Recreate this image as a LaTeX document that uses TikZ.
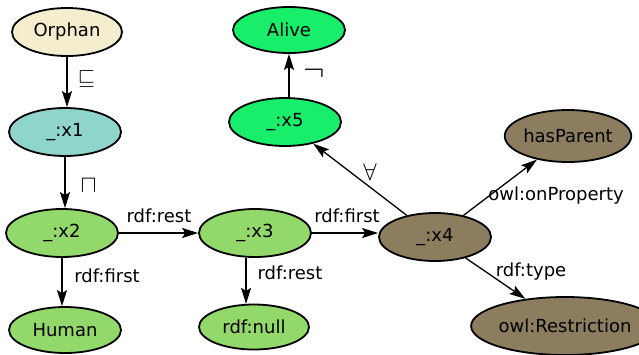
\documentclass[tikz,border=0pt]{standalone}
\usepackage{fontspec}
\setmainfont{DejaVu Sans}
\usetikzlibrary{shapes.geometric,arrows.meta}
\definecolor{cream}{RGB}{245,238,206}
\definecolor{teal}{RGB}{143,213,204}
\definecolor{lgreen}{RGB}{146,216,106}
\definecolor{bgreen}{RGB}{24,238,106}
\definecolor{khaki}{RGB}{140,125,95}
\tikzset{
  nd/.style={ellipse, draw=black, line width=1.8pt, inner sep=0pt,
    minimum width=112pt, minimum height=48pt, font=\fontsize{18}{21}\selectfont},
  lbl/.style={font=\fontsize{18}{21}\selectfont, inner sep=0pt},
  sym/.style={inner sep=0pt},
  edge/.style={line width=1.3pt, -{Stealth[length=16pt,width=10pt,inset=3pt]}},
}
\begin{document}
\begin{tikzpicture}[x=1pt,y=-1pt]
\useasboundingbox (0,0) rectangle (639,354);
\node[nd, fill=cream, minimum width=110pt] (Orphan) at (67,32) {Orphan};
\node[nd, fill=teal] (x1) at (65,132) {\_:x1};
\node[nd, fill=lgreen] (x2) at (62,233) {\_:x2};
\node[nd, fill=lgreen] (x3) at (255,233) {\_:x3};
\node[nd, fill=lgreen, minimum height=46pt] (Human) at (65,330) {Human};
\node[nd, fill=lgreen, minimum width=110pt, minimum height=45pt] (null) at (254,327) {rdf:null};
\node[nd, fill=bgreen, minimum height=46pt] (Alive) at (289,30) {Alive};
\node[nd, fill=bgreen] (x5) at (285,122) {\_:x5};
\node[nd, fill=khaki] (x4) at (435,237) {\_:x4};
\node[nd, fill=khaki, minimum width=116pt, minimum height=52pt] (hasParent) at (568,136) {hasParent};
\node[nd, fill=khaki, minimum width=144pt, minimum height=58pt] (Restriction) at (565,326) {owl:Restriction};

\draw[edge] (Orphan.south) -- (Orphan.south |- x1.north);
\draw[edge] (x1.south) -- (x1.south |- x2.north);
\draw[edge] (x2.south) -- (x2.south |- Human.north);
\draw[edge] (x2) -- (x3);
\draw[edge] (x3.250) -- (null.110 -| x3.250);
\draw[edge] (x3.east) -- (x3.east -| x4.west);
\draw[edge] (x4) -- (x5);
\draw[edge] (Alive.south |- x5.north) -- (Alive.south);
\draw[edge] (x4) -- (hasParent);
\draw[edge] (x4) -- (Restriction);

\node[sym, scale=2.2] (l1) at (86.5,78.5) {$\sqsubseteq$};
\node[sym, scale=2.4] (l2) at (88.5,185.5) {$\sqcap$};
\node[sym, scale=3.2] (l3) at (314,74) {$\neg$};
\node[sym, scale=2.4] (l4) at (370,172) {$\forall$};
\node[lbl, anchor=base] (l5) at (159,222) {rdf:rest};
\node[lbl, anchor=base] (l6) at (107,282) {rdf:first};
\node[lbl, anchor=base] (l7) at (290,279) {rdf:rest};
\node[lbl, anchor=base] (l8) at (347,222) {rdf:first};
\node[lbl, anchor=base] (l9) at (556,200) {owl:onProperty};
\node[lbl, anchor=base] (l10) at (531,276) {rdf:type};
\end{tikzpicture}
\end{document}
